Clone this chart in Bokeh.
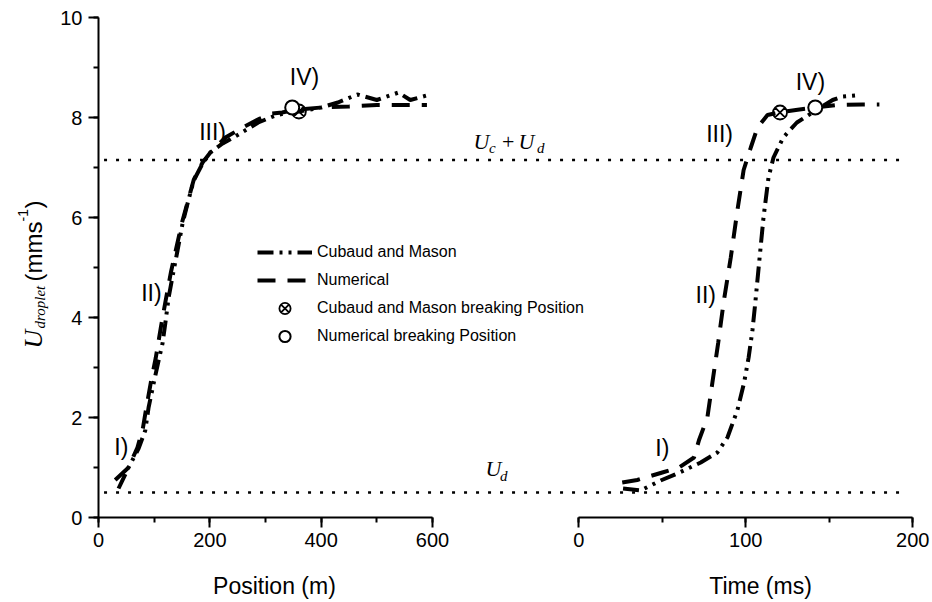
from bokeh.plotting import figure
from bokeh.models import Label, Legend, LegendItem, SingleIntervalTicker, LinearAxis, Range1d
from bokeh.embed import file_html
from bokeh.resources import INLINE
import math

# ---------------- data ----------------
# Left panel: droplet velocity vs position
cm_pos = [36, 54, 72, 84, 90, 99, 108, 115, 120, 126, 135, 142, 151, 160, 171, 187, 201, 223, 250, 287, 318, 341, 360, 400, 430, 465, 500, 539, 560, 596]
cm_pos_u = [0.58, 1.0, 1.38, 1.74, 2.2, 2.68, 3.14, 3.48, 3.88, 4.4, 4.94, 5.34, 5.88, 6.28, 6.74, 7.08, 7.3, 7.48, 7.65, 7.9, 8.04, 8.1, 8.12, 8.2, 8.3, 8.46, 8.35, 8.5, 8.35, 8.46]
num_pos = [30, 54, 70, 80, 86, 94, 103, 112, 120, 130, 140, 150, 160, 171, 187, 201, 228, 259, 290, 312, 330, 350, 400, 450, 500, 550, 590]
num_pos_u = [0.75, 1.0, 1.4, 1.8, 2.2, 2.7, 3.2, 3.8, 4.3, 4.9, 5.4, 5.9, 6.3, 6.75, 7.1, 7.3, 7.6, 7.8, 7.98, 8.08, 8.1, 8.15, 8.2, 8.22, 8.25, 8.25, 8.25]
cm_break_pos, cm_break_pos_u = [360], [8.12]
num_break_pos, num_break_pos_u = [348], [8.2]

# Right panel: droplet velocity vs time
cm_time = [26.5, 37, 49, 59, 73, 83, 89, 95, 99, 101.7, 104, 105.7, 107.7, 110.6, 113.6, 116.6, 122.4, 130.6, 140, 152, 158, 168.6]
cm_time_u = [0.58, 0.54, 0.74, 0.88, 1.1, 1.3, 1.6, 2.15, 2.7, 3.2, 3.75, 4.3, 5.0, 6.0, 6.8, 7.2, 7.6, 7.9, 8.1, 8.35, 8.42, 8.45]
num_time = [26, 35, 50, 60, 69, 72, 77, 80, 83.5, 86.7, 91, 95, 98.7, 103, 107, 113, 120, 130, 141.6, 155, 170, 180]
num_time_u = [0.7, 0.75, 0.9, 1.0, 1.2, 1.55, 2.0, 2.7, 3.5, 4.3, 5.2, 6.15, 6.95, 7.4, 7.8, 8.05, 8.1, 8.15, 8.2, 8.25, 8.26, 8.26]
cm_break_time, cm_break_time_u = [120.5], [8.1]
num_break_time, num_break_time_u = [141.6], [8.2]

# reference levels
ref_levels = [7.15, 0.5]          # U_c + U_d, U_d
ref_pos_extent = [10, 1441]

stage_labels = ["I)", "II)", "III)", "IV)"]
stage_pos = [41, 95, 205, 370]
stage_pos_u = [1.42, 4.5, 7.72, 8.82]
stage_time = [50, 76, 84.3, 138.7]
stage_time_u = [1.4, 4.46, 7.68, 8.72]

SANS = "Liberation Sans"
SERIF = "Liberation Serif"
CM_DASH = "16 6 3 6 3 6"
NUM_DASH = "18 12"
REF_DASH = "3 9"
LW = 4

# The whole canvas is the plotting frame; axes are pinned at data 0.
p = figure(width=932, height=602, x_range=(-176.0, 1498.1), y_range=(-1.7, 10.34),
           output_backend="svg", toolbar_location=None,
           min_border_left=0, min_border_right=0, min_border_top=0, min_border_bottom=0)
p.extra_x_ranges = {"time": Range1d(-346.3, 211.8)}
p.grid.visible = False
p.outline_line_color = None
p.background_fill_color = "white"
p.border_fill_color = "white"

time_axis = LinearAxis(x_range_name="time")
p.add_layout(time_axis, "below")


def style_axis(ax):
    ax.axis_line_width = 2
    ax.axis_line_color = "black"
    ax.major_tick_line_width = 2
    ax.minor_tick_line_width = 2
    ax.major_tick_line_color = "black"
    ax.minor_tick_line_color = "black"
    ax.major_tick_out = 10
    ax.major_tick_in = 0
    ax.minor_tick_out = 5
    ax.minor_tick_in = 0
    ax.major_label_text_font = SANS
    ax.major_label_text_font_size = "20px"
    ax.major_label_text_color = "black"
    ax.fixed_location = 0


for ax in p.axis:
    style_axis(ax)

p.yaxis.ticker = SingleIntervalTicker(interval=2, num_minor_ticks=2)
p.yaxis.bounds = (0, 10)
p.yaxis.major_label_standoff = 6

pos_axis = p.xaxis[0]
pos_axis.ticker = SingleIntervalTicker(interval=200, num_minor_ticks=2)
pos_axis.bounds = (0, 600)
pos_axis.major_label_standoff = 5

time_axis.ticker = SingleIntervalTicker(interval=100, num_minor_ticks=2)
time_axis.bounds = (0, 200)
time_axis.major_label_standoff = 5

# reference dotted lines
for lev in ref_levels:
    p.line(ref_pos_extent, [lev, lev], line_color="black", line_width=2.5, line_dash=REF_DASH)

# curves
r_cm = p.line(cm_pos, cm_pos_u, line_color="black", line_width=LW, line_dash=CM_DASH)
r_num = p.line(num_pos, num_pos_u, line_color="black", line_width=LW, line_dash=NUM_DASH)
p.line(cm_time, cm_time_u, line_color="black", line_width=LW, line_dash=CM_DASH, x_range_name="time")
p.line(num_time, num_time_u, line_color="black", line_width=LW, line_dash=NUM_DASH, x_range_name="time")

r_cmb = p.scatter(cm_break_pos, cm_break_pos_u, marker="circle_x", size=14,
                  line_color="black", line_width=1.8, fill_alpha=0)
r_numb = p.scatter(num_break_pos, num_break_pos_u, marker="circle", size=14,
                   line_color="black", line_width=2, fill_color="white")
p.scatter(cm_break_time, cm_break_time_u, marker="circle_x", size=14,
          line_color="black", line_width=1.8, fill_alpha=0, x_range_name="time")
p.scatter(num_break_time, num_break_time_u, marker="circle", size=14,
          line_color="black", line_width=2, fill_color="white", x_range_name="time")

# stage labels
for t, x, y in zip(stage_labels, stage_pos, stage_pos_u):
    p.add_layout(Label(x=x, y=y, text=t, text_align="center", text_baseline="middle",
                       text_font=SANS, text_font_size="23px", text_color="black"))
for t, x, y in zip(stage_labels, stage_time, stage_time_u):
    p.add_layout(Label(x=x, y=y, text=t, text_align="center", text_baseline="middle",
                       text_font=SANS, text_font_size="23px", text_color="black",
                       x_range_name="time"))

# axis titles
p.add_layout(Label(x=316.1, y=-1.36, text="Position (m)", text_align="center",
                   text_baseline="middle", text_font=SANS, text_font_size="23px",
                   text_color="black"))
p.add_layout(Label(x=108.8, y=-1.36, text="Time (ms)", text_align="center",
                   text_baseline="middle", text_font=SANS, text_font_size="23px",
                   text_color="black", x_range_name="time"))


def lab(x, y, text, font, size, style="normal", angle=0.0, align="left"):
    p.add_layout(Label(x=x, y=y, text=text, text_font=font, text_font_size=size,
                       text_font_style=style, angle=angle, text_align=align,
                       text_baseline="alphabetic", text_color="black"))


# math-like labels for reference lines
lab(673.6, 7.52, "U", SERIF, "22px", "italic")
lab(701.5, 7.40, "c", SERIF, "15px", "italic")
lab(725.0, 7.52, "+", SERIF, "22px")
lab(754.4, 7.52, "U", SERIF, "22px", "italic")
lab(787.5, 7.40, "d", SERIF, "15px", "italic")

lab(695.2, 0.98, "U", SERIF, "22px", "italic")
lab(721.0, 0.84, "d", SERIF, "15px", "italic")

# y-axis title (rotated)
A = math.pi / 2
lab(-116.8, 3.38, "U", SERIF, "26px", "italic", angle=A)
lab(-104.2, 3.78, "droplet", SERIF, "15px", "italic", angle=A)
lab(-116.8, 4.72, "(mms", SANS, "24px", angle=A)
lab(-134.7, 5.92, "-1", SANS, "14px", angle=A)
lab(-116.8, 6.18, ")", SANS, "24px", angle=A)

# legend
legend = Legend(items=[
    LegendItem(label="Cubaud and Mason", renderers=[r_cm]),
    LegendItem(label="Numerical", renderers=[r_num]),
    LegendItem(label="Cubaud and Mason breaking Position", renderers=[r_cmb]),
    LegendItem(label="Numerical breaking Position", renderers=[r_numb]),
], location=(257, 252), padding=0, margin=0, spacing=0,
    glyph_width=55, glyph_height=28, label_height=28, label_standoff=5,
    label_text_font=SANS, label_text_font_size="16px", label_text_color="black",
    border_line_alpha=0, background_fill_alpha=0)
p.add_layout(legend)

open("out.html", "w").write(file_html(p, INLINE))
